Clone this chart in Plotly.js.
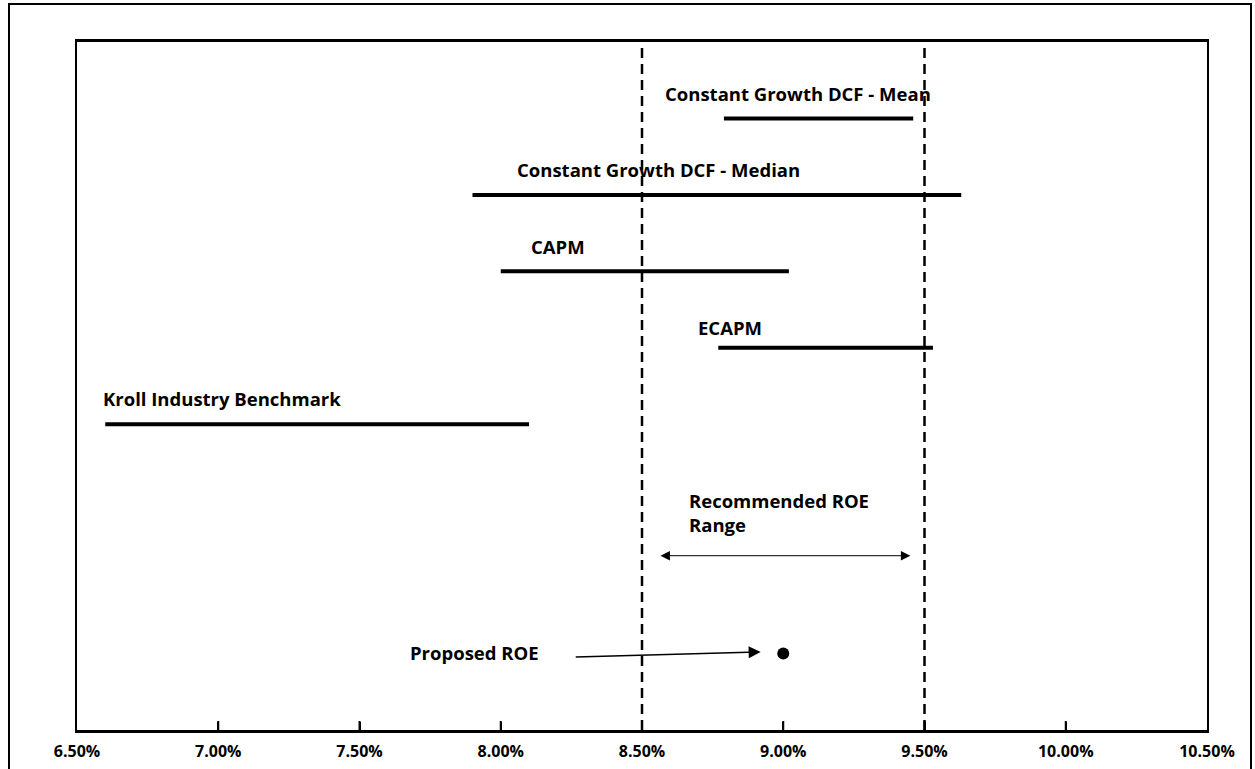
<!DOCTYPE html>
<html>
<head>
<meta charset="utf-8">
<script src="https://cdn.plot.ly/plotly-3.0.1.min.js"></script>
<style>
  html, body { margin: 0; padding: 0; background: #fff; }
  #wrap { position: relative; width: 1255px; height: 769px; overflow: hidden; }
  #chart { position: absolute; left: 0; top: 0; width: 1255px; height: 769px; }
  #frame { position: absolute; left: 8px; top: 3px; width: 1240px; height: 800px; border: 2px solid #000; pointer-events: none; }
</style>
</head>
<body>
<div id="wrap">
  <div id="chart"></div>
  <div id="frame"></div>
</div>
<script>
// ---- data (percent) ----
const methods = ["Constant Growth DCF - Mean", "Constant Growth DCF - Median", "CAPM", "ECAPM", "Kroll Industry Benchmark"];
const lowValues = [8.79, 7.90, 8.00, 8.77, 6.60];
const highValues = [9.46, 9.63, 9.02, 9.53, 8.10];
const recommendedRange = [8.50, 9.50];
const proposedROE = 9.00;
const tickValues = [6.5, 7.0, 7.5, 8.0, 8.5, 9.0, 9.5, 10.0, 10.5];
const tickLabels = ["6.50%", "7.00%", "7.50%", "8.00%", "8.50%", "9.00%", "9.50%", "10.00%", "10.50%"];

// ---- layout / style (positions) ----
const rowLevels = [8, 7, 6, 5, 4];
const labelX = [8.574, 8.05, 8.10, 8.69, 6.585];
const labelY = [8.33, 7.33, 6.32, 5.27, 4.34];
const FONT = "'Open Sans', 'Liberation Sans', sans-serif";
const labelFont = { family: FONT, size: 18.5, color: "#000", weight: "bold" };

const traces = methods.map((m, i) => ({
  type: "scatter", mode: "lines", name: m,
  x: [lowValues[i], highValues[i]],
  y: [rowLevels[i], rowLevels[i]],
  line: { color: "#000", width: 4 },
  hoverinfo: "name+x"
}));
traces.push({
  type: "scatter", mode: "markers", name: "Proposed ROE",
  x: [proposedROE], y: [1],
  marker: { color: "#000", size: 12 }
});

const annotations = methods.map((m, i) => ({
  x: labelX[i], y: labelY[i], xref: "x", yref: "y",
  text: "<b>" + m + "</b>", showarrow: false,
  xanchor: "left", yanchor: "middle", font: labelFont
}));
annotations.push({
  x: 8.66, y: 2.84, xref: "x", yref: "y",
  text: "<b>Recommended ROE</b><br><b>Range</b>", showarrow: false,
  xanchor: "left", yanchor: "middle", align: "left", font: labelFont
});
annotations.push({
  x: 7.67, y: 1.01, xref: "x", yref: "y",
  text: "<b>Proposed ROE</b>", showarrow: false,
  xanchor: "left", yanchor: "middle", font: labelFont
});
// double arrow for recommended range
annotations.push({
  x: 9.45, y: 2.28, ax: 8.56, ay: 2.28, xref: "x", yref: "y", axref: "x", ayref: "y",
  text: "", showarrow: true, arrowhead: 2, startarrowhead: 2, arrowside: "end+start",
  arrowsize: 1.9, startarrowsize: 1.9, arrowwidth: 1, arrowcolor: "#000"
});
// arrow pointing to proposed ROE
annotations.push({
  x: 8.92, y: 1.02, ax: 8.26, ay: 0.955, xref: "x", yref: "y", axref: "x", ayref: "y",
  text: "", showarrow: true, arrowhead: 2, arrowsize: 1.6, arrowwidth: 1.5, arrowcolor: "#000"
});

const shapes = recommendedRange.map(v => ({
  type: "line", xref: "x", yref: "paper", x0: v, x1: v, y0: 0, y1: 1,
  line: { color: "#000", width: 2.5, dash: "10px,6px" }
}));
// inside tick marks on the bottom axis, placed at the tick values
tickValues.slice(1, -1).forEach(v => shapes.push({
  type: "line", xref: "x", yref: "paper", ysizemode: "pixel", yanchor: 0,
  x0: v, x1: v, y0: 0, y1: 9, layer: "above",
  line: { color: "#000", width: 2 }
}));

const layout = {
  width: 1255, height: 769,
  margin: { l: 77, r: 48, t: 42, b: 39 },
  paper_bgcolor: "#fff", plot_bgcolor: "#fff",
  showlegend: false,
  xaxis: {
    range: [6.5, 10.5], tickvals: tickValues, ticktext: tickLabels,
    ticks: "inside", ticklen: 8, tickwidth: 2, tickcolor: "#000",
    showline: true, linecolor: "#000", linewidth: 3, mirror: true,
    showgrid: false, zeroline: false, ticklabelstandoff: 5,
    tickfont: { family: FONT, size: 16, color: "#000", weight: "bold" }
  },
  yaxis: {
    range: [0, 9], showticklabels: false, ticks: "",
    showline: true, linecolor: "#000", linewidth: 2, mirror: true,
    showgrid: false, zeroline: false
  },
  shapes: shapes,
  annotations: annotations
};

Plotly.newPlot("chart", traces, layout, { displayModeBar: false, staticPlot: true });
</script>
</body>
</html>
